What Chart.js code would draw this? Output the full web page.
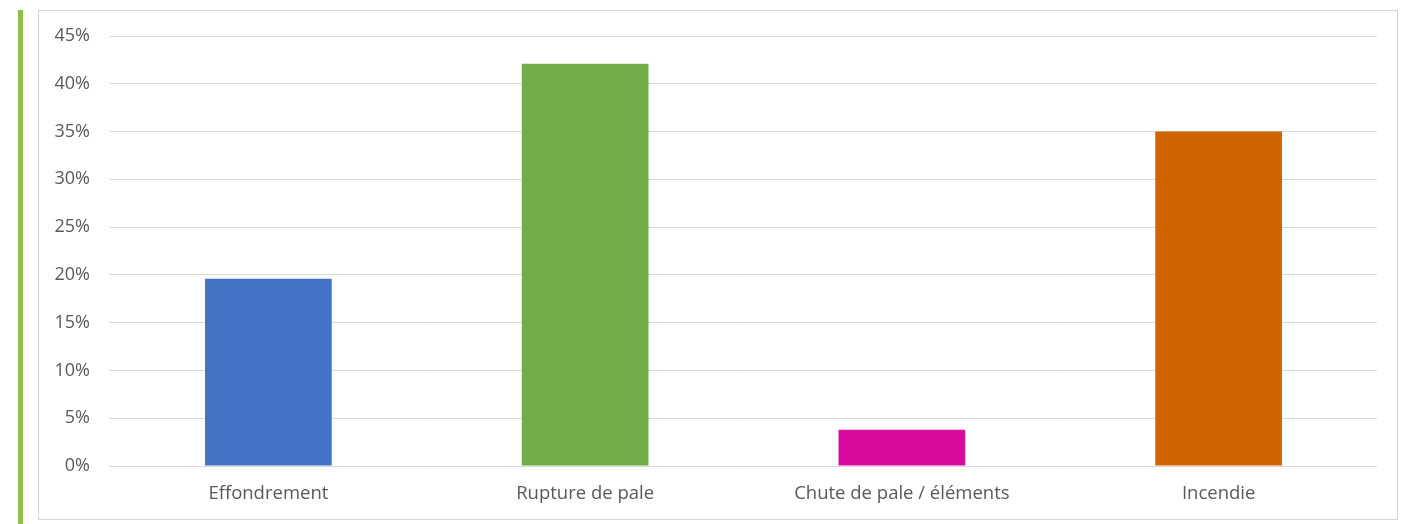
<!DOCTYPE html>
<html>
<head>
<meta charset="utf-8">
<title>Accidents</title>
<style>
    body { margin: 0; background: #ffffff; }
    #accent { position: absolute; left: 18px; top: 10px; width: 5px; height: 514px; background: #8DC04B; }
    #frame { position: absolute; left: 38px; top: 10px; width: 1358px; height: 508px; border: 1px solid #D4D4D4; }
    #chart { display: block; }
</style>
</head>
<body>
<div id="accent"></div>
<div id="frame">
    <canvas id="chart" width="1358" height="508"></canvas>
</div>
<script src="https://cdn.jsdelivr.net/npm/chart.js"></script>
<script>
    // Share of accidents by type (%)
    var categories = ["Effondrement", "Rupture de pale", "Chute de pale / éléments", "Incendie"];
    var shares = [19.6, 42.1, 3.8, 35.0];
    var barColors = ["#4472C4", "#70AD47", "#DB0A9E", "#D06400"];

    var ctx = document.getElementById("chart");
    var myChart = new Chart(ctx, {
        type: "bar",
        data: {
            labels: categories,
            datasets: [{
                data: shares,
                backgroundColor: barColors,
                borderWidth: 0,
                categoryPercentage: 1.0,
                barPercentage: 0.4
            }]
        },
        options: {
            responsive: false,
            animation: false,
            layout: { padding: { top: 25, right: 20, left: 0, bottom: 0 } },
            plugins: {
                legend: { display: false },
                tooltip: { enabled: false }
            },
            scales: {
                x: {
                    grid: { display: false, drawTicks: false },
                    border: { display: false },
                    ticks: {
                        padding: 17,
                        color: "#595959",
                        font: { family: "Open Sans", size: 18.5 }
                    },
                    afterFit: function (scale) { scale.height = 53; }
                },
                y: {
                    min: 0,
                    max: 45,
                    grid: { color: "#D9D9D9", lineWidth: 1, drawTicks: false },
                    border: { display: false },
                    ticks: {
                        stepSize: 5,
                        padding: 20,
                        color: "#595959",
                        font: { family: "Open Sans", size: 18 },
                        callback: function (v) { return v + "%"; }
                    },
                    afterFit: function (scale) {
                        scale.width = 71;
                        scale.paddingTop = 0;
                        scale.paddingBottom = 0;
                    }
                }
            }
        }
    });
</script>
</body>
</html>
